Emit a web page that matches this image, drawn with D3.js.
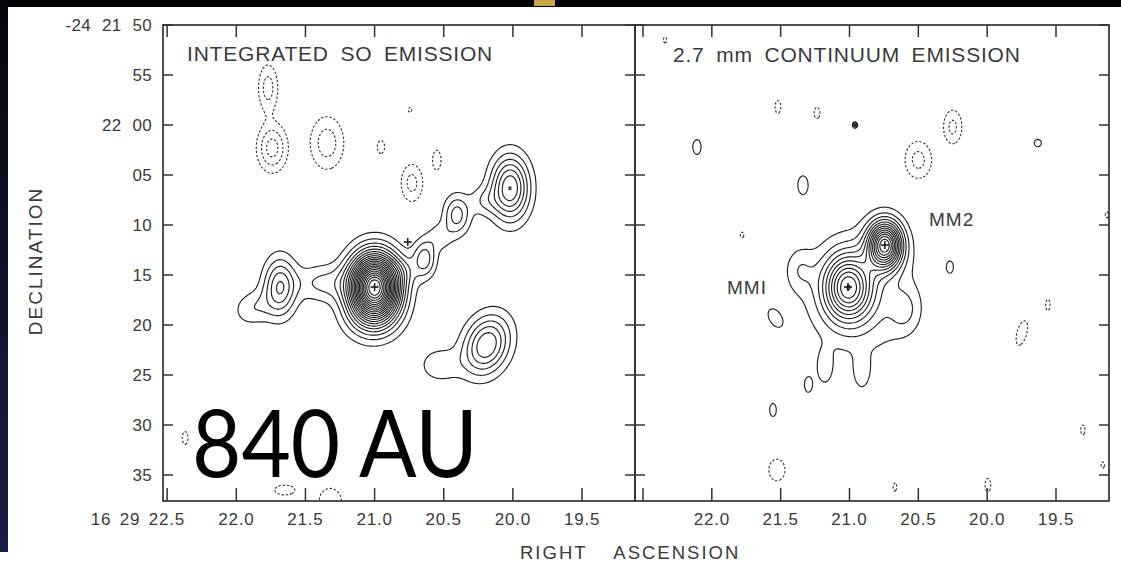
<!DOCTYPE html>
<html><head><meta charset="utf-8">
<script src="https://cdn.jsdelivr.net/npm/d3@7"></script>
<style>html,body{margin:0;padding:0;background:#fff;overflow:hidden}</style>
</head><body><svg id="c" width="1121" height="564"></svg>
<script>
// ---------------- data ----------------
const raTicks = [22.5, 22.0, 21.5, 21.0, 20.5, 20.0, 19.5];
const raLabelsLeft = ["16 29 22.5", "22.0", "21.5", "21.0", "20.5", "20.0", "19.5"];
const raLabelsRight = ["", "22.0", "21.5", "21.0", "20.5", "20.0", "19.5"];
const decTicks = [50, 55, 60, 65, 70, 75, 80, 85, 90, 95];
const decLabels = ["-24 21 50", "55", "22 00", "05", "10", "15", "20", "25", "30", "35"];
const posLevels = [1,2,3,4,5,6,7,8,9,10,11,12,13,14,15,16,17,18,19,20,21];
const negLevels = [1,2,3];

// SO emission components (RA s, Dec arcsec past -24 21 00, amplitude, widths arcsec, angle deg)
const soRA  = [21.00, 21.03, 21.684, 21.88, 21.38, 20.80, 20.64, 20.53, 20.405, 20.21, 20.02, 20.19, 20.53,
               21.77, 21.74, 21.344, 20.954, 20.744, 20.73, 20.55, 22.37, 21.65, 21.32];
const soDec = [76.2, 79.5, 76.2, 78.3, 75.8, 74.6, 73.4, 71.2, 69.0, 67.6, 66.3, 82.0, 84.0,
               56.3, 62.3, 61.8, 62.2, 58.5, 65.8, 63.5, 91.3, 96.5, 97.6];
const soAmp = [22, 1.6, 5, 1.8, 2.2, 1.1, 3.6, 1.5, 3.5, 1.6, 7, 6, 1.8,
               -2.5, -3.5, -2.6, -1.3, -1.15, -2.4, -1.4, -1.3, -1.4, -1.5];
const soSx  = [1.65, 2.0, 1.1, 1.4, 1.8, 0.9, 0.8, 0.9, 0.9, 1.0, 1.3, 1.5, 1.4,
               0.7, 1.0, 1.2, 0.5, 0.3, 0.8, 0.5, 0.4, 1.2, 1.2];
const soSy  = [2.2, 1.6, 2.0, 1.2, 1.3, 0.9, 1.3, 1.0, 1.4, 1.0, 2.2, 2.1, 1.2,
               1.7, 1.6, 1.9, 0.9, 0.5, 1.4, 1.2, 0.9, 0.6, 1.4];
const soAng = [0, 0, 0, -30, 0, 0, 0, 0, 0, 0, 0, 20, 0,
               0, 0, 0, 0, 0, 0, 0, 0, 0, 0];
const soMarkRA = [21.00, 20.76];
const soMarkDec = [76.2, 71.7];

// 2.7 mm continuum components
const ctRA  = [21.011, 20.743, 20.92, 21.18, 20.91, 20.60, 21.36,
               22.108, 21.338, 21.541, 20.27, 19.632, 21.30, 21.556, 20.96,
               21.52, 21.236, 20.50, 20.25, 19.748, 19.559, 19.305, 21.527, 20.67, 19.995, 19.16, 19.13, 21.78, 22.34];
const ctDec = [76.2, 72.0, 77.0, 84.3, 84.7, 78.5, 74.5,
               62.2, 66.0, 79.3, 74.2, 61.8, 86.0, 88.5, 60.0,
               58.2, 58.8, 63.5, 60.2, 80.8, 78.0, 90.5, 94.5, 96.2, 96.0, 94.0, 69.0, 71.0, 51.5];
const ctAmp = [9, 13, 2.2, 1.5, 1.5, 1.6, 1.5,
               1.4, 1.4, 1.4, 1.3, 1.3, 1.3, 1.3, 4,
               -1.3, -1.3, -2.4, -2.3, -1.6, -1.3, -1.3, -1.3, -1.2, -1.3, -1.2, -1.2, -1.2, -1.2];
const ctSx  = [1.6, 1.15, 3.8, 0.6, 0.6, 1.0, 1.0,
               0.5, 0.6, 0.6, 0.4, 0.5, 0.45, 0.45, 0.15,
               0.4, 0.4, 1.0, 0.7, 0.5, 0.3, 0.3, 1.1, 0.3, 0.4, 0.3, 0.3, 0.3, 0.3];
const ctSy  = [2.2, 1.6, 4.2, 1.3, 1.3, 1.5, 1.5,
               0.9, 1.1, 1.0, 0.7, 0.5, 0.9, 0.9, 0.2,
               0.9, 0.8, 1.4, 1.3, 1.3, 0.8, 0.7, 1.5, 0.7, 0.9, 0.5, 0.5, 0.5, 0.5];
const ctAng = [0, 0, 0, 0, 0, 0, 0,
               0, 0, -30, 0, 0, 0, 0, 0,
               0, 0, 0, 0, 15, 0, 0, 0, 0, 0, 0, 0, 0, 0];
const ctMarkRA = [21.011, 20.743];
const ctMarkDec = [76.2, 72.0];

// ---------------- drawing ----------------
const svg = d3.select("#c");
const W = 1121, H = 564;
const ink = "#333";

// slide background
svg.append("rect").attr("width", W).attr("height", H).attr("fill", "#fff");
svg.append("rect").attr("x", 0).attr("y", 0).attr("width", W).attr("height", 7).attr("fill", "#000");
svg.append("rect").attr("x", 534).attr("y", 0).attr("width", 21).attr("height", 6).attr("fill", "#c9a84a");
const grad = svg.append("defs").append("linearGradient").attr("id", "lg").attr("x1", 0).attr("y1", 0).attr("x2", 0).attr("y2", 1);
grad.append("stop").attr("offset", 0).attr("stop-color", "#07070f");
grad.append("stop").attr("offset", 1).attr("stop-color", "#1c1c48");
svg.append("rect").attr("x", 0).attr("y", 0).attr("width", 8).attr("height", 552).attr("fill", "url(#lg)");

const y = d3.scaleLinear().domain([50, 97.6]).range([25, 501]);
const xL = d3.scaleLinear().domain([22.53, 19.117]).range([163, 635]);
const xR = d3.scaleLinear().domain([22.558, 19.115]).range([635, 1109]);

function field(x, comps, nx, ny) {
  const [r0, r1] = x.domain(), [d0, d1] = y.domain();
  const vals = new Float64Array(nx * ny);
  const dr = (r1 - r0) / (nx - 1), dd = (d1 - d0) / (ny - 1);
  for (let k = 0; k < comps.ra.length; k++) {
    const a = comps.ang[k] * Math.PI / 180, ca = Math.cos(a), sa = Math.sin(a);
    const sx = comps.sx[k], sy = comps.sy[k], A = comps.amp[k];
    for (let j = 0; j < ny; j++) {
      const dy = (d0 + j * dd) - comps.dec[k];
      if (Math.abs(dy) > 6 * Math.max(sx, sy)) continue;
      for (let i = 0; i < nx; i++) {
        const dx = (comps.ra[k] - (r0 + i * dr)) * 13.66;
        if (Math.abs(dx) > 6 * Math.max(sx, sy)) continue;
        const u = dx * ca + dy * sa, v = -dx * sa + dy * ca;
        vals[i + j * nx] += A * Math.exp(-0.5 * ((u / sx) ** 2 + (v / sy) ** 2));
      }
    }
  }
  return {vals, dr, dd, r0, d0};
}

function panel(x, comps, marksRA, marksDec, clipId) {
  const nx = 320, ny = 320;
  const f = field(x, comps, nx, ny);
  const proj = d3.geoTransform({
    point(px, py) {
      this.stream.point(x(f.r0 + (px - 0.5) * f.dr), y(f.d0 + (py - 0.5) * f.dd));
    }
  });
  const path = d3.geoPath(proj);
  const [xa, xb] = x.range();
  svg.append("clipPath").attr("id", clipId).append("rect")
    .attr("x", xa).attr("y", y.range()[0]).attr("width", xb - xa).attr("height", y.range()[1] - y.range()[0]);
  const g = svg.append("g").attr("clip-path", `url(#${clipId})`);
  const pos = d3.contours().size([nx, ny]).thresholds(posLevels)(Array.from(f.vals));
  g.selectAll("path.pos").data(pos).join("path").attr("class", "pos")
    .attr("d", path).attr("fill", "none").attr("stroke", "#222").attr("stroke-width", 1.15);
  const neg = d3.contours().size([nx, ny]).thresholds(negLevels)(Array.from(f.vals, v => -v));
  g.selectAll("path.neg").data(neg).join("path").attr("class", "neg")
    .attr("d", path).attr("fill", "none").attr("stroke", "#333").attr("stroke-width", 1.1)
    .attr("stroke-dasharray", "2.4,1.8");
  marksRA.forEach((r, i) => {
    const cx = x(r), cy = y(marksDec[i]);
    g.append("path").attr("d", `M${cx - 4},${cy}H${cx + 4}M${cx},${cy - 4}V${cy + 4}`)
      .attr("stroke", "#111").attr("stroke-width", 1.4);
  });
}

panel(xL, {ra: soRA, dec: soDec, amp: soAmp, sx: soSx, sy: soSy, ang: soAng}, soMarkRA, soMarkDec, "cl");
panel(xR, {ra: ctRA, dec: ctDec, amp: ctAmp, sx: ctSx, sy: ctSy, ang: ctAng}, ctMarkRA, ctMarkDec, "cr");

// frames and ticks
const axes = svg.append("g").attr("stroke", ink).attr("fill", "none");
[xL, xR].forEach(x => {
  const [xa, xb] = x.range();
  axes.append("rect").attr("x", xa).attr("y", 25).attr("width", xb - xa).attr("height", 476).attr("stroke-width", 1.7);
  raTicks.forEach(t => {
    const px = x(t);
    axes.append("line").attr("x1", px).attr("x2", px).attr("y1", 25).attr("y2", 37).attr("stroke-width", 1.5);
    axes.append("line").attr("x1", px).attr("x2", px).attr("y1", 501).attr("y2", 488).attr("stroke-width", 1.5);
  });
  decTicks.forEach(t => {
    const py = y(t);
    axes.append("line").attr("x1", xa).attr("x2", xa + 10).attr("y1", py).attr("y2", py).attr("stroke-width", 1.5);
    axes.append("line").attr("x1", xb).attr("x2", xb - 10).attr("y1", py).attr("y2", py).attr("stroke-width", 1.5);
  });
});

const txt = svg.append("g").attr("font-family", "'Liberation Sans', Arial, sans-serif").attr("fill", "#3a3a3a");
decTicks.forEach((t, i) => {
  txt.append("text").attr("x", 152).attr("y", y(t) + 6).attr("text-anchor", "end")
    .attr("font-size", 17).attr("letter-spacing", 0.3).attr("word-spacing", 6).text(decLabels[i]);
});
raTicks.forEach((t, i) => {
  if (i === 0) {
    txt.append("text").attr("x", 185).attr("y", 525).attr("text-anchor", "end")
      .attr("font-size", 17).attr("letter-spacing", 0.8).attr("word-spacing", 3).text(raLabelsLeft[i]);
  } else {
    txt.append("text").attr("x", xL(t)).attr("y", 525).attr("text-anchor", "middle")
      .attr("font-size", 17).attr("letter-spacing", 0.8).text(raLabelsLeft[i]);
  }
  if (raLabelsRight[i]) {
    txt.append("text").attr("x", xR(t)).attr("y", 525).attr("text-anchor", "middle")
      .attr("font-size", 17).attr("letter-spacing", 0.8).text(raLabelsRight[i]);
  }
});
txt.append("text").attr("x", 187).attr("y", 61).attr("font-size", 21)
  .attr("letter-spacing", 0.8).attr("word-spacing", 5).text("INTEGRATED SO EMISSION");
txt.append("text").attr("x", 673).attr("y", 62).attr("font-size", 21)
  .attr("letter-spacing", 0.8).attr("word-spacing", 5).text("2.7 mm CONTINUUM EMISSION");
txt.append("text").attr("x", 929).attr("y", 226).attr("font-size", 19).attr("letter-spacing", 1).text("MM2");
txt.append("text").attr("x", 727).attr("y", 294).attr("font-size", 19).attr("letter-spacing", 1).text("MMI");
txt.append("text").attr("x", 520).attr("y", 559).attr("font-size", 18.5)
  .attr("letter-spacing", 2).attr("word-spacing", 20).text("RIGHT ASCENSION");
txt.append("text").attr("transform", "translate(42,261) rotate(-90)").attr("text-anchor", "middle")
  .attr("font-size", 19).attr("letter-spacing", 2).text("DECLINATION");

// overlay label
svg.append("text").attr("x", 192).attr("y", 477).attr("font-family", "Lato, 'Open Sans', sans-serif")
  .attr("font-size", 93).attr("fill", "#000").attr("textLength", 286).attr("lengthAdjust", "spacingAndGlyphs")
  .text("840 AU");
</script></body></html>
